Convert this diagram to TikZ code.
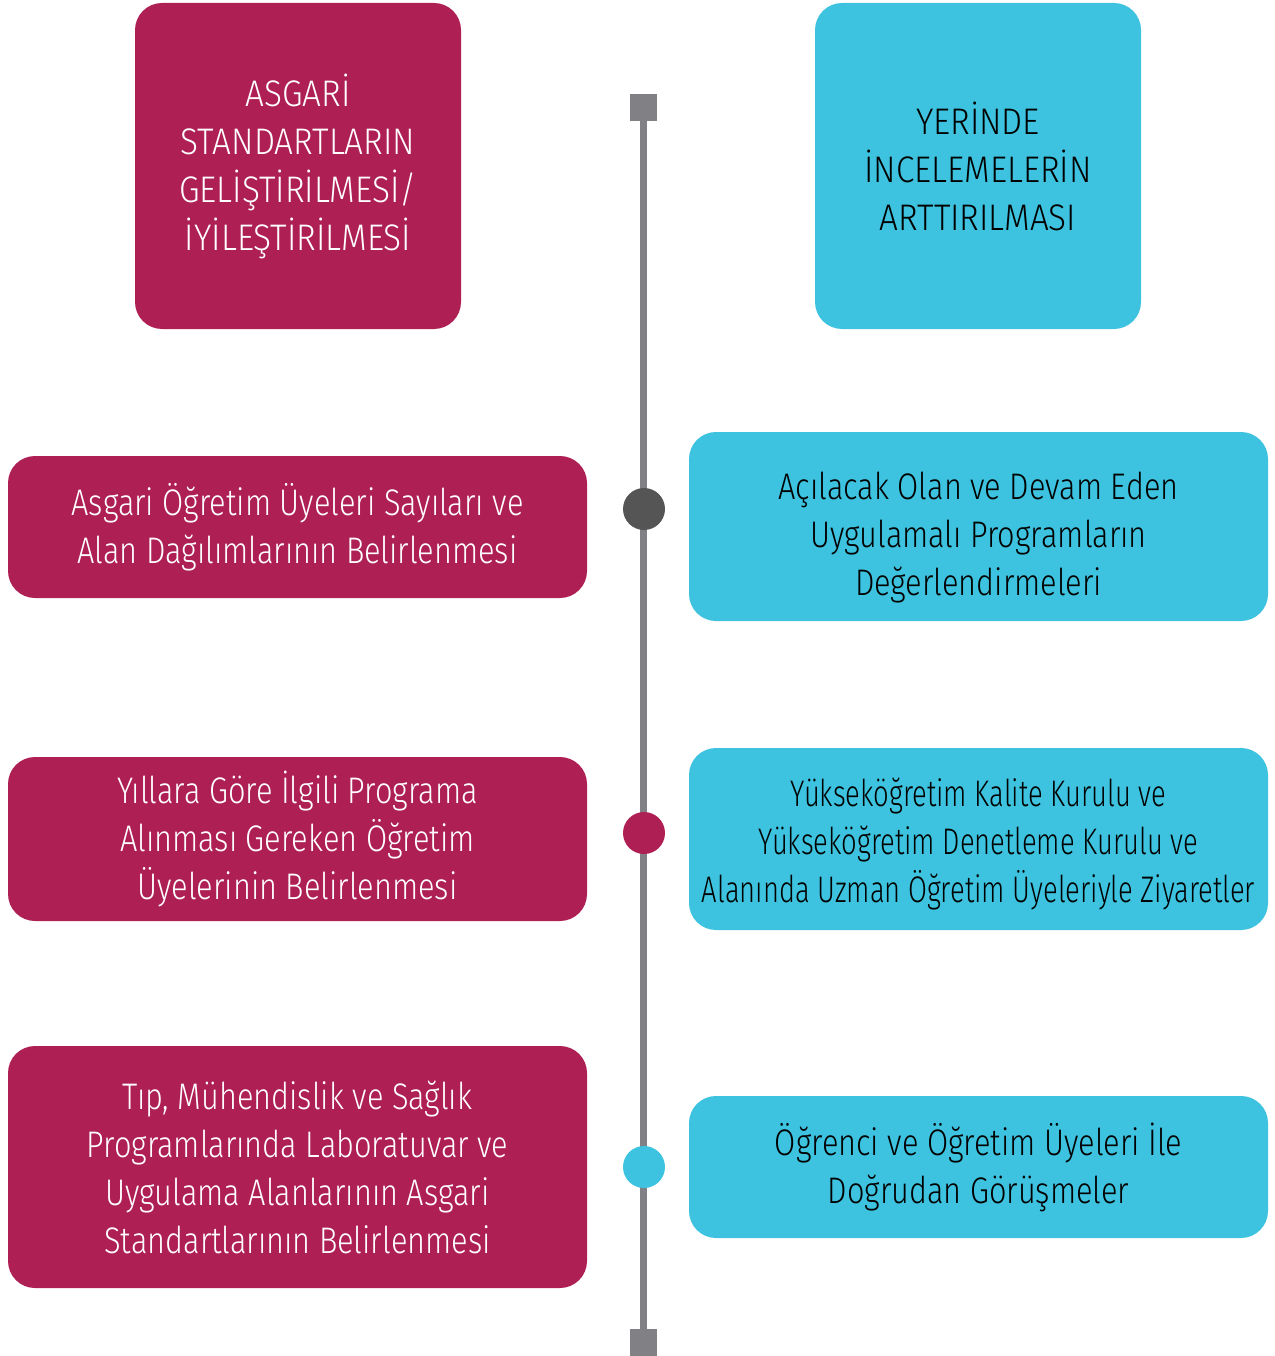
\documentclass[tikz,border=0pt]{standalone}
\usepackage{fontspec}
\setmainfont[FakeStretch=0.83, UprightFont={* Light}]{Fira Sans}
\newfontfamily\sikifont[FakeStretch=0.74, UprightFont={* Light}]{Fira Sans}
\newfontfamily\genisfont[FakeStretch=0.9, UprightFont={* Light}]{Fira Sans}
\usepackage{tikz}
\definecolor{kirmizi}{HTML}{AE1F53}
\definecolor{mavi}{HTML}{3DC3DF}
\definecolor{cizgi}{HTML}{808085}
\definecolor{koyu}{HTML}{555555}
\newcommand{\itme}[1]{\rule{0pt}{#1}}
\tikzset{
  kutu/.style={rounded corners=27pt, inner sep=0pt, align=center,
    font=\fontsize{37}{48}\selectfont},
  solkutu/.style={kutu, fill=kirmizi, text=white},
  sagkutu/.style={kutu, fill=mavi, text=black},
  baslik/.style={minimum width=326pt, minimum height=326pt,
    font=\genisfont\fontsize{37}{48}\selectfont},
  nokta/.style={circle, inner sep=0pt, minimum size=42pt},
  uc/.style={fill=cizgi, inner sep=0pt, minimum size=27pt}
}

\begin{document}
\begin{tikzpicture}[x=1pt, y=-1pt]
                \useasboundingbox (0,0) rectangle (1274,1356);
                % zaman cizgisi
                \node [uc] (ust) at (643.5,107.5) {};
                \node [uc] (alt) at (643.5,1342.5) {};
                \draw [cizgi, line width=7pt] (ust) -- (alt);
                \node [nokta, fill=koyu] (n1) at (644,509) {};
                \node [nokta, fill=kirmizi] (n2) at (644,833) {};
                \node [nokta, fill=mavi] (n3) at (644,1167) {};
                % basliklar
                \node [solkutu, baslik] (b1) at (298,166)
                  {ASGARİ\\STANDARTLARIN\\GELİŞTİRİLMESİ/\\İYİLEŞTİRİLMESİ};
                \node [sagkutu, baslik] (b2) at (978,166)
                  {YERİNDE\\İNCELEMELERİN\\ARTTIRILMASI};
                % sol kutular
                \node [solkutu, minimum width=579pt, minimum height=142pt] (s1) at (297.5,527)
                  {Asgari Öğretim Üyeleri Sayıları ve\\Alan Dağılımlarının Belirlenmesi};
                \node [solkutu, minimum width=579pt, minimum height=164pt] (s2) at (297.5,839)
                  {Yıllara Göre İlgili Programa\\Alınması Gereken Öğretim\\Üyelerinin Belirlenmesi};
                \node [solkutu, minimum width=579pt, minimum height=242pt] (s3) at (297.5,1167)
                  {Tıp, Mühendislik ve Sağlık\\Programlarında Laboratuvar ve\\Uygulama Alanlarının Asgari\\Standartlarının Belirlenmesi};
                % sag kutular
                \node [sagkutu, minimum width=579pt, minimum height=189pt] (r1) at (978.5,526.5)
                  {\itme{50pt}Açılacak Olan ve Devam Eden\\Uygulamalı Programların\\Değerlendirmeleri};
                \node [sagkutu, minimum width=579pt, minimum height=182pt, font=\sikifont\fontsize{37}{48}\selectfont] (r2) at (978.5,839)
                  {\itme{39pt}Yükseköğretim Kalite Kurulu ve\\Yükseköğretim Denetleme Kurulu ve\\Alanında Uzman Öğretim Üyeleriyle Ziyaretler};
                \node [sagkutu, minimum width=579pt, minimum height=142pt] (r3) at (978.5,1167)
                  {Öğrenci ve Öğretim Üyeleri İle\\Doğrudan Görüşmeler};
            \end{tikzpicture}
\end{document}
